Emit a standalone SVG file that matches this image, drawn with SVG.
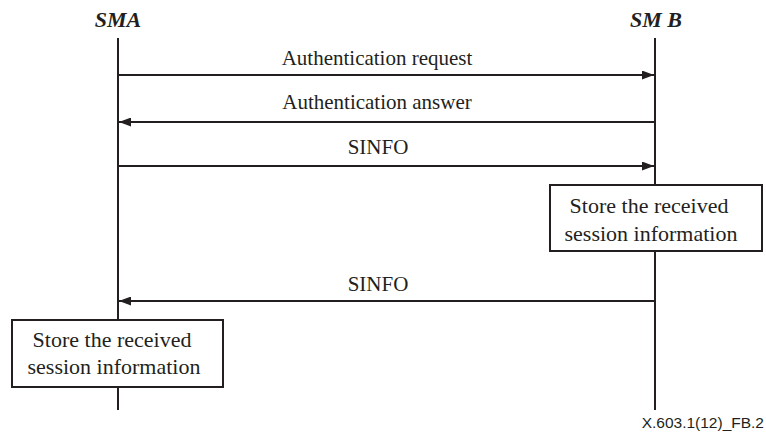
<svg xmlns="http://www.w3.org/2000/svg" width="766" height="441" viewBox="0 0 766 441">
<style>
.t{font-family:"Liberation Serif","Times New Roman",serif;font-size:21px;fill:#231f20;text-anchor:middle}
.s{font-family:"Liberation Serif","Times New Roman",serif;font-size:22px;fill:#231f20;text-anchor:middle}
.h{font-family:"Liberation Serif","Times New Roman",serif;font-size:22px;font-weight:bold;font-style:italic;fill:#231f20;text-anchor:middle}
.f{font-family:"Liberation Sans",Arial,sans-serif;font-size:15.5px;fill:#231f20;text-anchor:end}
.l{stroke:#231f20;stroke-width:2;fill:none}
.b{stroke:#231f20;stroke-width:2;fill:#fff}
</style>
<defs>
<marker id="ah" markerWidth="12" markerHeight="9" refX="12" refY="4.5" orient="auto" markerUnits="userSpaceOnUse">
<path d="M0,0 L12,4.5 L0,9 Z" fill="#231f20"/>
</marker>
</defs>
<g id="SMA">
<text class="h" x="118" y="27">SMA</text>
<line class="l" x1="118" y1="38" x2="118" y2="410"/>
</g>
<g id="SMB">
<text class="h" x="656" y="27">SM B</text>
<line class="l" x1="655" y1="38" x2="655" y2="410"/>
</g>
<g id="connectors">
<line class="l" x1="118" y1="75" x2="654" y2="75" marker-end="url(#ah)"/>
<text class="t" x="377" y="65">Authentication request</text>
<line class="l" x1="655" y1="122" x2="119" y2="122" marker-end="url(#ah)"/>
<text class="t" x="377" y="109">Authentication answer</text>
<line class="l" x1="118" y1="166" x2="654" y2="166" marker-end="url(#ah)"/>
<text class="t" x="378" y="154">SINFO</text>
<line class="l" x1="655" y1="301" x2="119" y2="301" marker-end="url(#ah)"/>
<text class="t" x="378" y="291">SINFO</text>
</g>
<g id="boxB">
<rect class="b" x="550" y="185" width="212" height="66"/>
<text class="s" x="649" y="213">Store the received</text>
<text class="s" x="651" y="241">session information</text>
</g>
<g id="boxA">
<rect class="b" x="12" y="320" width="211" height="67"/>
<text class="s" x="112" y="347">Store the received</text>
<text class="s" x="114" y="374">session information</text>
</g>
<text class="f" x="764" y="428">X.603.1(12)_FB.2</text>
</svg>
